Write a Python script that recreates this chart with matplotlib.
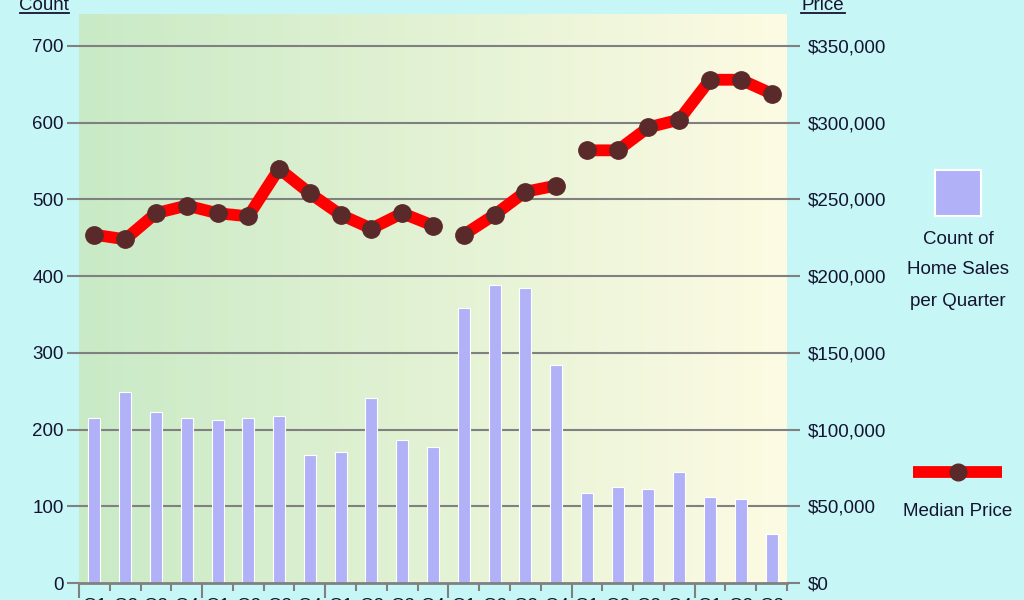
import matplotlib
matplotlib.use("Agg")
import matplotlib.pyplot as plt
import numpy as np
from matplotlib.colors import LinearSegmentedColormap
from matplotlib.patches import Rectangle
import matplotlib.transforms as mtransforms

# ---- data ----
quarter_labels = ["Q1", "Q2", "Q3", "Q4"] * 5 + ["Q1", "Q2", "Q3"]
sales_count = [215, 249, 223, 215, 212, 215, 218, 167, 171, 241, 186, 177,
               358, 388, 384, 284, 117, 125, 123, 145, 112, 110, 64]
median_price = [227000, 224000, 241000, 246000, 241000, 239000, 270000, 254000,
                240000, 231000, 241000, 233000,
                227000, 240000, 255000, 259000,
                282000, 282000, 297000, 302000, 328000, 328000, 319000]
line_segments = [(0, 12), (12, 16), (16, 23)]  # price line is broken between these groups
count_ticks = [0, 100, 200, 300, 400, 500, 600, 700]
price_ticks = [0, 50000, 100000, 150000, 200000, 250000, 300000, 350000]

W, H = 1024, 600
fig = plt.figure(figsize=(W / 100, H / 100), dpi=100)
bg = "#c7f6f6"
fig.patch.set_facecolor(bg)
plt.rcParams['font.family'] = ['Liberation Sans', 'DejaVu Sans']
txt_color = "#141430"
fs = 13.5

L, R, B, T = 79, 787, 583, 14
ax = fig.add_axes([L / W, 1 - B / H, (R - L) / W, (B - T) / H])
ymax = (B - T) / (B - 46) * 700
ax.set_ylim(0, ymax)
n = len(sales_count)
ax.set_xlim(-0.5, n - 0.5)

# gradient background
cmap = LinearSegmentedColormap.from_list("g", ["#c9eac6", "#e3f2d4", "#fdfbe3"])
grad = np.linspace(0, 1, 256).reshape(1, -1)
ax.imshow(grad, extent=[-0.5, n - 0.5, 0, ymax], aspect="auto", cmap=cmap, zorder=0)

# grid
for v in count_ticks[1:]:
    ax.axhline(v, color="#808080", lw=1.5, zorder=1)

x = np.arange(n)
ax.bar(x, sales_count, width=0.39, color="#b1b1f8", edgecolor="white", linewidth=0.8, zorder=2)

for s in ["top", "right", "left"]:
    ax.spines[s].set_visible(False)
ax.spines["bottom"].set_color("#808080")
ax.spines["bottom"].set_linewidth(2)

ax.set_yticks(count_ticks)
ax.set_yticklabels([str(v) for v in count_ticks])
ax.tick_params(axis="y", length=9, width=1.5, color="#808080", labelsize=fs,
               labelcolor=txt_color, pad=2)

bounds = np.arange(n + 1) - 0.5
major_b = [b for i, b in enumerate(bounds) if i % 4 == 0 and i < n]
minor_b = [b for i, b in enumerate(bounds) if not (i % 4 == 0 and i < n)]
ax.set_xticks(major_b)
ax.set_xticks(minor_b, minor=True)
ax.set_xticklabels([])
ax.tick_params(axis="x", which="major", length=11, width=1.5, color="#808080")
ax.tick_params(axis="x", which="minor", length=6, width=1.5, color="#808080")
for xi, lbl in zip(x, quarter_labels):
    ax.annotate(lbl, xy=(xi, 0), xycoords=mtransforms.blended_transform_factory(ax.transData, ax.transAxes),
                xytext=(0, -15), textcoords="offset pixels", ha="center", va="top",
                fontsize=fs, color=txt_color, annotation_clip=False)

ax2 = ax.twinx()
ax2.set_ylim(0, ymax * 500)
for s in ["top", "right", "left", "bottom"]:
    ax2.spines[s].set_visible(False)
ax2.set_yticks(price_ticks)
ax2.set_yticklabels(["$0" if v == 0 else "${:,}".format(v) for v in price_ticks])
ax2.tick_params(axis="y", length=9, width=1.5, color="#808080", labelsize=fs,
                labelcolor=txt_color, pad=6)
for a, b in line_segments:
    ax2.plot(x[a:b], median_price[a:b], color="#ff0000", lw=8.5, solid_joinstyle="miter",
             marker="o", markersize=12.5, markerfacecolor="#5a2a2a", markeredgecolor="#5a2a2a",
             zorder=3)

# overlay in pixel coords for legend and axis titles
ov = fig.add_axes([0, 0, 1, 1], facecolor="none")
ov.set_xlim(0, W)
ov.set_ylim(H, 0)
ov.axis("off")

ov.text(44, 10, "Count", ha="center", va="baseline", fontsize=fs, color=txt_color)
ov.plot([20, 69], [12.5, 12.5], color=txt_color, lw=1.3)
ov.text(823, 10, "Price", ha="center", va="baseline", fontsize=fs, color=txt_color)
ov.plot([801, 845], [12.5, 12.5], color=txt_color, lw=1.3)

ov.add_patch(Rectangle((935, 170), 46, 46, facecolor="#b1b1f8", edgecolor="white", lw=1.5))
for i, t in enumerate(["Count of", "Home Sales", "per Quarter"]):
    ov.text(958, 239 + 31 * i, t, ha="center", va="center", fontsize=fs, color=txt_color)
ov.plot([913, 1002], [471.5, 471.5], color="#ff0000", lw=8.5, solid_capstyle="butt")
ov.plot([958], [471.5], marker="o", markersize=12, color="#5a2a2a")
ov.text(958, 511, "Median Price", ha="center", va="center", fontsize=fs, color=txt_color)

fig.savefig("out.png", dpi=100, facecolor=bg)
